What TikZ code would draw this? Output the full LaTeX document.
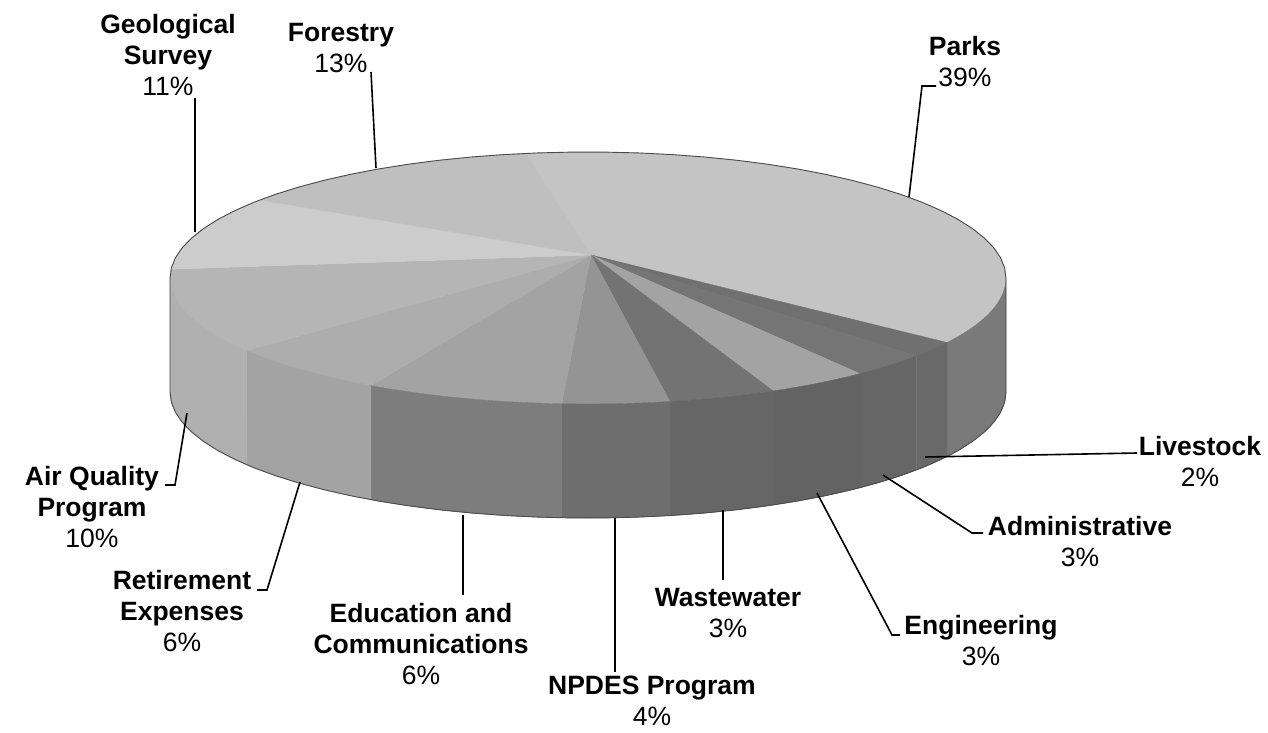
\documentclass[tikz,border=0pt]{standalone}
\usepackage{fontspec}
\setmainfont{Liberation Sans}
\definecolor{forestrytop}{gray}{0.75}
\definecolor{parkstop}{gray}{0.77}
\definecolor{parksside}{gray}{0.48}
\definecolor{livestocktop}{gray}{0.44}
\definecolor{livestockside}{gray}{0.41}
\definecolor{admintop}{gray}{0.46}
\definecolor{adminside}{gray}{0.40}
\definecolor{engtop}{gray}{0.64}
\definecolor{engside}{gray}{0.39}
\definecolor{wastetop}{gray}{0.45}
\definecolor{wasteside}{gray}{0.40}
\definecolor{npdestop}{gray}{0.58}
\definecolor{npdesside}{gray}{0.43}
\definecolor{eductop}{gray}{0.64}
\definecolor{educside}{gray}{0.49}
\definecolor{retiretop}{gray}{0.68}
\definecolor{retireside}{gray}{0.64}
\definecolor{airqtop}{gray}{0.71}
\definecolor{airqside}{gray}{0.69}
\definecolor{geoltop}{gray}{0.80}
\newcommand{\rimx}{588+418*cos(\x)}
\newcommand{\rimy}{278-126*sin(\x)}
\newcommand{\rimyb}{392-126*sin(\x)}
\begin{document}
\begin{tikzpicture}[x=1pt,y=-1pt,
        slice/.style={fill=#1,draw=#1,line width=0.4pt},
        rimplot/.style={samples=40},
        pieedge/.style={draw=black!70,line width=0.9pt},
        leader/.style={line width=1.6pt},
        lbl/.style={align=center,inner sep=0pt,font=\fontsize{26.5}{31}\selectfont}]
        \useasboundingbox (0,0) rectangle (1268,732);
        \coordinate (apex) at (591,255);
        \filldraw[slice=parkstop] (apex) -- plot[rimplot,domain=-30.8:98.6] ({\rimx},{\rimy}) -- cycle;
        \filldraw[slice=livestocktop] (apex) -- plot[rimplot,domain=-38.2:-30.8] ({\rimx},{\rimy}) -- cycle;
        \filldraw[slice=admintop] (apex) -- plot[rimplot,domain=-49.4:-38.2] ({\rimx},{\rimy}) -- cycle;
        \filldraw[slice=engtop] (apex) -- plot[rimplot,domain=-63.7:-49.4] ({\rimx},{\rimy}) -- cycle;
        \filldraw[slice=wastetop] (apex) -- plot[rimplot,domain=-78.7:-63.7] ({\rimx},{\rimy}) -- cycle;
        \filldraw[slice=npdestop] (apex) -- plot[rimplot,domain=-93.6:-78.7] ({\rimx},{\rimy}) -- cycle;
        \filldraw[slice=eductop] (apex) -- plot[rimplot,domain=-121.3:-93.6] ({\rimx},{\rimy}) -- cycle;
        \filldraw[slice=retiretop] (apex) -- plot[rimplot,domain=-144.8:-121.3] ({\rimx},{\rimy}) -- cycle;
        \filldraw[slice=airqtop] (apex) -- plot[rimplot,domain=-184:-144.8] ({\rimx},{\rimy}) -- cycle;
        \filldraw[slice=geoltop] (apex) -- plot[rimplot,domain=-218.3:-184] ({\rimx},{\rimy}) -- cycle;
        \filldraw[slice=forestrytop] (apex) -- plot[rimplot,domain=98.6:141.7] ({\rimx},{\rimy}) -- cycle;
        \filldraw[slice=parksside] plot[rimplot,domain=-30.8:0] ({\rimx},{\rimy}) -- plot[rimplot,domain=0:-30.8] ({\rimx},{\rimyb}) -- cycle;
        \filldraw[slice=livestockside] plot[rimplot,domain=-38.2:-30.8] ({\rimx},{\rimy}) -- plot[rimplot,domain=-30.8:-38.2] ({\rimx},{\rimyb}) -- cycle;
        \filldraw[slice=adminside] plot[rimplot,domain=-49.4:-38.2] ({\rimx},{\rimy}) -- plot[rimplot,domain=-38.2:-49.4] ({\rimx},{\rimyb}) -- cycle;
        \filldraw[slice=engside] plot[rimplot,domain=-63.7:-49.4] ({\rimx},{\rimy}) -- plot[rimplot,domain=-49.4:-63.7] ({\rimx},{\rimyb}) -- cycle;
        \filldraw[slice=wasteside] plot[rimplot,domain=-78.7:-63.7] ({\rimx},{\rimy}) -- plot[rimplot,domain=-63.7:-78.7] ({\rimx},{\rimyb}) -- cycle;
        \filldraw[slice=npdesside] plot[rimplot,domain=-93.6:-78.7] ({\rimx},{\rimy}) -- plot[rimplot,domain=-78.7:-93.6] ({\rimx},{\rimyb}) -- cycle;
        \filldraw[slice=educside] plot[rimplot,domain=-121.3:-93.6] ({\rimx},{\rimy}) -- plot[rimplot,domain=-93.6:-121.3] ({\rimx},{\rimyb}) -- cycle;
        \filldraw[slice=retireside] plot[rimplot,domain=-144.8:-121.3] ({\rimx},{\rimy}) -- plot[rimplot,domain=-121.3:-144.8] ({\rimx},{\rimyb}) -- cycle;
        \filldraw[slice=airqside] plot[rimplot,domain=-180:-144.8] ({\rimx},{\rimy}) -- plot[rimplot,domain=-144.8:-180] ({\rimx},{\rimyb}) -- cycle;
        \draw[pieedge] plot[rimplot,domain=0:180] ({\rimx},{\rimy}) -- plot[rimplot,domain=180:360] ({\rimx},{\rimyb}) -- cycle;
        \node[lbl] (geol) at (168,55) {\textbf{Geological}\\\textbf{Survey}\\11\%};
        \node[lbl] (forestry) at (341,48) {\textbf{Forestry}\\13\%};
        \node[lbl] (parks) at (965,62) {\textbf{Parks}\\39\%};
        \node[lbl] (livestock) at (1200,461) {\textbf{Livestock}\\2\%};
        \node[lbl] (admin) at (1080,542) {\textbf{Administrative}\\3\%};
        \node[lbl] (eng) at (981,641) {\textbf{Engineering}\\3\%};
        \node[lbl] (waste) at (728,613) {\textbf{Wastewater}\\3\%};
        \node[lbl] (npdes) at (652,701) {\textbf{NPDES Program}\\4\%};
        \node[lbl] (educ) at (421,644) {\textbf{Education and}\\\textbf{Communications}\\6\%};
        \node[lbl] (retire) at (182,611) {\textbf{Retirement}\\\textbf{Expenses}\\6\%};
        \node[lbl] (airq) at (92,507) {\textbf{Air Quality}\\\textbf{Program}\\10\%};
        \coordinate (geolrim) at (195,232);
        \coordinate (geolend) at (195,98);
        \coordinate (forestryrim) at (376,168);
        \coordinate (forestryend) at (371,72);
        \coordinate (parksrim) at (909,197);
        \coordinate (parksbend) at (922,86);
        \coordinate (parksend) at (936,86);
        \coordinate (livestockrim) at (925,457);
        \coordinate (livestockend) at (1137,453);
        \coordinate (adminrim) at (883,475);
        \coordinate (adminbend) at (972,533);
        \coordinate (adminend) at (983,533);
        \coordinate (engrim) at (817,493);
        \coordinate (engbend) at (892,635);
        \coordinate (engend) at (900,635);
        \coordinate (wasterim) at (723,510);
        \coordinate (wasteend) at (723,580);
        \coordinate (npdesrim) at (615,518);
        \coordinate (npdesend) at (615,672);
        \coordinate (educrim) at (463,515);
        \coordinate (educend) at (463,595);
        \coordinate (retirerim) at (300,482);
        \coordinate (retirebend) at (267,590);
        \coordinate (retireend) at (257,590);
        \coordinate (airqrim) at (187,413);
        \coordinate (airqbend) at (175,485);
        \coordinate (airqend) at (165,485);
        \draw[leader] (geolrim) -- (geolend);
        \draw[leader] (forestryrim) -- (forestryend);
        \draw[leader] (parksrim) -- (parksbend) -- (parksend);
        \draw[leader] (livestockrim) -- (livestockend);
        \draw[leader] (adminrim) -- (adminbend) -- (adminend);
        \draw[leader] (engrim) -- (engbend) -- (engend);
        \draw[leader] (wasterim) -- (wasteend);
        \draw[leader] (npdesrim) -- (npdesend);
        \draw[leader] (educrim) -- (educend);
        \draw[leader] (retirerim) -- (retirebend) -- (retireend);
        \draw[leader] (airqrim) -- (airqbend) -- (airqend);
    \end{tikzpicture}
\end{document}
